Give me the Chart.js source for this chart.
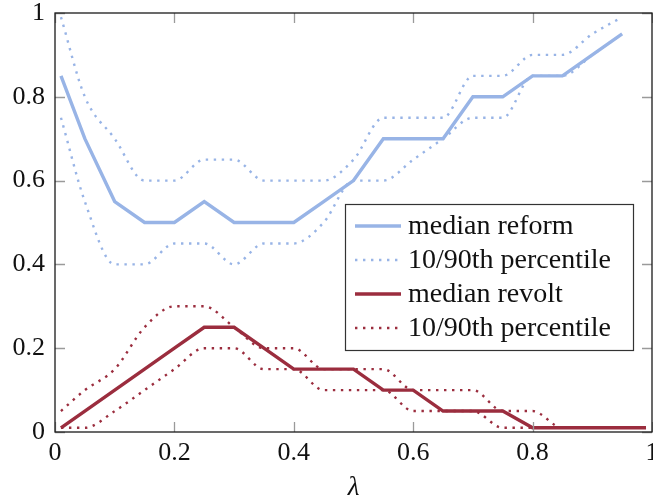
<!DOCTYPE html>
<html lang="en">
<head>
<meta charset="UTF-8">
<title>median reform / revolt</title>
<script src="https://cdn.jsdelivr.net/npm/chart.js"></script>
<style>
  html, body { margin: 0; padding: 0; background: #fff; overflow: hidden; }
</style>
</head>
<body>
<canvas id="myChart" width="653" height="499"></canvas>
<script>
// lambda grid (x axis)
const lambda = [0.01, 0.05, 0.1, 0.15, 0.2, 0.25, 0.3, 0.35, 0.4, 0.45, 0.5,
  0.55, 0.6, 0.65, 0.7, 0.75, 0.8, 0.85, 0.9, 0.95, 0.99];

// reform series (null = no value at that lambda)
const reformMedian = [0.85, 0.7, 0.55, 0.5, 0.5, 0.55, 0.5, 0.5, 0.5, 0.55, 0.6,
  0.7, 0.7, 0.7, 0.8, 0.8, 0.85, 0.85, 0.9, 0.95, null];
const reformP90 = [0.99, 0.8, 0.7, 0.6, 0.6, 0.65, 0.65, 0.6, 0.6, 0.6, 0.65,
  0.75, 0.75, 0.75, 0.85, 0.85, 0.9, 0.9, 0.95, 0.99, null];
const reformP10 = [0.75, 0.55, 0.4, 0.4, 0.45, 0.45, 0.4, 0.45, 0.45, 0.5, 0.6,
  0.6, 0.65, 0.7, 0.75, 0.75, 0.85, 0.85, 0.9, 0.95, null];

// revolt series
const revoltMedian = [0.01, 0.05, 0.1, 0.15, 0.2, 0.25, 0.25, 0.2, 0.15, 0.15, 0.15,
  0.1, 0.1, 0.05, 0.05, 0.05, 0.01, 0.01, 0.01, 0.01, 0.01];
const revoltP90 = [0.05, 0.1, 0.15, 0.25, 0.3, 0.3, 0.25, 0.2, 0.2, 0.15, 0.15,
  0.15, 0.1, 0.1, 0.1, 0.05, 0.05, 0.01, 0.01, 0.01, 0.01];
const revoltP10 = [0.01, 0.01, 0.05, 0.1, 0.15, 0.2, 0.2, 0.15, 0.15, 0.1, 0.1,
  0.1, 0.05, 0.05, 0.05, 0.01, 0.01, 0.01, 0.01, 0.01, 0.01];

const xTicks = [0, 0.2, 0.4, 0.6, 0.8, 1];
const yTicks = [0, 0.2, 0.4, 0.6, 0.8, 1];

const BLUE = 'rgb(152, 180, 230)';
const RED = 'rgb(155, 45, 62)';
const SERIF = '"Liberation Serif", "DejaVu Serif", serif';

function points(ys) {
  const pts = [];
  lambda.forEach((x, i) => {
    if (ys[i] !== null) pts.push({ x: x, y: ys[i] });
  });
  return pts;
}

function solid(label, ys, color) {
  return {
    label: label, data: points(ys), borderColor: color, backgroundColor: color,
    borderWidth: 3.4, pointRadius: 0, tension: 0, fill: false
  };
}

function dotted(label, ys, color) {
  return {
    label: label, data: points(ys), borderColor: color, backgroundColor: color,
    borderWidth: 2.4, borderDash: [2.4, 5.6], borderCapStyle: 'butt',
    pointRadius: 0, cubicInterpolationMode: 'monotone', fill: false
  };
}

const fmt = v => String(Math.round(v * 10) / 10);

// pgfplots-like frame with inward ticks on all four sides
const framePlugin = {
  id: 'frame',
  afterDatasetsDraw(chart) {
    const { ctx, chartArea: a, scales } = chart;
    ctx.save();
    ctx.strokeStyle = '#9a9a9a';
    ctx.lineWidth = 1.3;
    const len = 10;
    ctx.beginPath();
    xTicks.forEach(v => {
      const px = Math.round(scales.x.getPixelForValue(v)) + 0.5;
      ctx.moveTo(px, a.bottom); ctx.lineTo(px, a.bottom - len);
      ctx.moveTo(px, a.top); ctx.lineTo(px, a.top + len);
    });
    yTicks.forEach(v => {
      const py = Math.round(scales.y.getPixelForValue(v)) + 0.5;
      ctx.moveTo(a.left, py); ctx.lineTo(a.left + len, py);
      ctx.moveTo(a.right, py); ctx.lineTo(a.right - len, py);
    });
    ctx.stroke();
    ctx.strokeStyle = '#1a1a1a';
    ctx.lineWidth = 1.3;
    ctx.strokeRect(a.left, a.top, a.right - a.left, a.bottom - a.top);
    ctx.restore();
  }
};

// legend box drawn inside the plot, lower right
const legendPlugin = {
  id: 'boxLegend',
  afterDraw(chart) {
    const { ctx } = chart;
    const items = chart.data.datasets.filter(ds => ds.label);
    const box = { x: 345, y: 204, w: 288, h: 146 };
    ctx.save();
    ctx.fillStyle = '#fff';
    ctx.fillRect(box.x, box.y, box.w, box.h);
    ctx.strokeStyle = '#333';
    ctx.lineWidth = 1.2;
    ctx.strokeRect(box.x + 0.5, box.y + 0.5, box.w, box.h);
    ctx.font = '28px ' + SERIF;
    ctx.textBaseline = 'middle';
    ctx.fillStyle = '#111';
    items.forEach((ds, i) => {
      const cy = box.y + 22 + i * 34;
      ctx.beginPath();
      ctx.strokeStyle = ds.borderColor;
      ctx.lineWidth = ds.borderWidth;
      ctx.lineCap = 'butt';
      ctx.setLineDash(ds.borderDash || []);
      ctx.moveTo(355, cy); ctx.lineTo(401, cy);
      ctx.stroke();
      ctx.setLineDash([]);
      ctx.fillText(ds.label, 408, cy + 1);
    });
    ctx.restore();
  }
};

const ctx = document.getElementById('myChart').getContext('2d');
new Chart(ctx, {
  type: 'line',
  data: {
    datasets: [
      solid('median reform', reformMedian, BLUE),
      dotted('10/90th percentile', reformP90, BLUE),
      dotted('', reformP10, BLUE),
      solid('median revolt', revoltMedian, RED),
      dotted('10/90th percentile', revoltP90, RED),
      dotted('', revoltP10, RED)
    ]
  },
  options: {
    responsive: false,
    animation: false,
    layout: { padding: { top: 13, right: 1, left: 0, bottom: 0 } },
    plugins: { legend: { display: false }, tooltip: { enabled: false } },
    scales: {
      x: {
        type: 'linear', min: 0, max: 1,
        afterBuildTicks: s => { s.ticks = xTicks.map(v => ({ value: v })); },
        afterFit: s => { s.height = 67; s.paddingLeft = 0; s.paddingRight = 0; },
        grid: { display: false, drawTicks: false },
        border: { display: false },
        ticks: { padding: 6, color: '#111', callback: fmt, font: { family: SERIF, size: 26 } },
        title: {
          display: true, text: 'λ', color: '#111', padding: 0,
          font: { family: SERIF, size: 27, style: 'italic', lineHeight: 0.8 }
        }
      },
      y: {
        min: 0, max: 1,
        afterBuildTicks: s => { s.ticks = yTicks.map(v => ({ value: v })); },
        afterFit: s => { s.width = 55; s.paddingTop = 0; s.paddingBottom = 0; },
        grid: { display: false, drawTicks: false },
        border: { display: false },
        ticks: { padding: 10, color: '#111', callback: fmt, font: { family: SERIF, size: 26 } }
      }
    }
  },
  plugins: [framePlugin, legendPlugin]
});
</script>
</body>
</html>
